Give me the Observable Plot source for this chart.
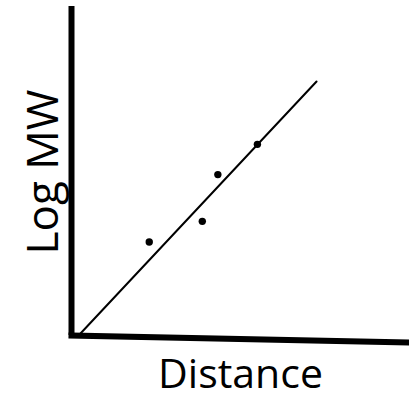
<!DOCTYPE html>
<html>
<head>
<meta charset="utf-8">
<script src="https://cdn.jsdelivr.net/npm/d3@7"></script>
<script src="https://cdn.jsdelivr.net/npm/@observablehq/plot@0.6"></script>
<style>
  html, body { margin: 0; padding: 0; background: #fff; }
  #chart svg { display: block; }
</style>
</head>
<body>
<div id="chart"></div>
<script>
// Calibration points: migration distance vs. log molecular weight (arbitrary units)
const distance = [2.30, 3.87, 4.33, 5.50];
const logMW = [2.84, 3.47, 4.89, 5.81];

// Standard curve drawn through the points
const fitDistance = [0.21, 7.25];
const fitLogMW = [0, 7.72];

// Hand-drawn axes: the horizontal one sags slightly to the right
const xAxisDistance = [0, 10];
const xAxisLogMW = [0, -0.21];
const yAxisLogMW = [0, 10];

const points = distance.map((d, i) => ({distance: d, logMW: logMW[i]}));
const fit = fitDistance.map((d, i) => ({distance: d, logMW: fitLogMW[i]}));
const xAxisLine = xAxisDistance.map((d, i) => ({distance: d, logMW: xAxisLogMW[i]}));

const font = "'Open Sans', 'Noto Sans', sans-serif";

const chart = Plot.plot({
  width: 409,
  height: 400,
  marginLeft: 71,
  marginRight: 0,
  marginTop: 6,
  marginBottom: 65,
  x: {domain: [0, 10], axis: null},
  y: {domain: [0, 10], axis: null},
  style: {background: "#fff", overflow: "visible"},
  marks: [
    // vertical axis
    Plot.ruleX([0], {y1: yAxisLogMW[0], y2: yAxisLogMW[1], stroke: "#000", strokeWidth: 6}),
    // horizontal axis
    Plot.line(xAxisLine, {x: "distance", y: "logMW", stroke: "#000", strokeWidth: 6, strokeLinecap: "square"}),
    // standard curve
    Plot.line(fit, {x: "distance", y: "logMW", stroke: "#000", strokeWidth: 2}),
    // samples
    Plot.dot(points, {x: "distance", y: "logMW", r: 3.7, fill: "#000", stroke: null}),
    // axis titles
    Plot.text(["Distance"], {frameAnchor: "bottom", textAnchor: "middle", lineAnchor: "middle", dy: 39.4, fontSize: 41, fontFamily: font, fill: "#000"}),
    Plot.text(["Log MW"], {frameAnchor: "left", textAnchor: "middle", lineAnchor: "middle", rotate: -90, dx: -28, dy: 1, fontSize: 44, fontFamily: font, fill: "#000"})
  ]
});

document.getElementById("chart").append(chart);
</script>
</body>
</html>
